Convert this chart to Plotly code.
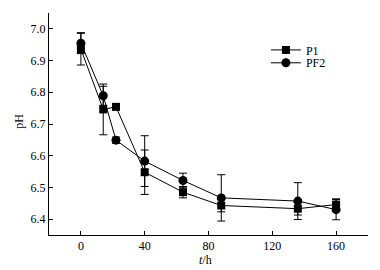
import plotly.graph_objects as go

time_h = [0, 14, 22, 40, 64, 88, 136, 160]
p1_ph = [6.936, 6.746, 6.754, 6.548, 6.485, 6.443, 6.433, 6.446]
p1_err = [0.05, 0.08, 0.005, 0.07, 0.018, 0.02, 0.02, 0.018]
pf2_ph = [6.955, 6.789, 6.649, 6.583, 6.522, 6.467, 6.457, 6.430]
pf2_err = [0.033, 0.03, 0.01, 0.08, 0.023, 0.073, 0.058, 0.032]

font_family = "Liberation Serif"

fig = go.Figure()
fig.add_trace(go.Scatter(
    x=time_h, y=p1_ph, name="P1", mode="lines+markers",
    line=dict(color="black", width=1),
    marker=dict(symbol="square", size=8, color="black"),
    error_y=dict(type="data", array=p1_err, visible=True, color="black", thickness=1, width=4),
    legend="legend",
))
fig.add_trace(go.Scatter(
    x=time_h, y=pf2_ph, name="PF2", mode="lines+markers",
    line=dict(color="black", width=1),
    marker=dict(symbol="circle", size=9, color="black"),
    error_y=dict(type="data", array=pf2_err, visible=True, color="black", thickness=1, width=4),
    legend="legend2",
))

leg_common = dict(xanchor="left", yanchor="top", bgcolor="rgba(0,0,0,0)",
                  font=dict(size=12), itemwidth=30)

fig.update_layout(
    width=372, height=262,
    margin=dict(l=41, r=12, t=5, b=35),
    paper_bgcolor="white", plot_bgcolor="white",
    font=dict(family=font_family, size=12, color="black"),
    showlegend=True,
    legend=dict(x=0.68, y=0.899, **leg_common),
    legend2=dict(x=0.68, y=0.841, **leg_common),
    xaxis=dict(
        range=[-20, 180], tickvals=[0, 40, 80, 120, 160],
        ticks="inside", ticklen=4, tickcolor="black",
        showline=True, linecolor="black", linewidth=1,
        showgrid=False, zeroline=False, automargin=False,
    ),
    yaxis=dict(
        range=[6.35, 7.05], tickvals=[6.4, 6.5, 6.6, 6.7, 6.8, 6.9, 7.0],
        tickformat=".1f",
        ticks="inside", ticklen=4, tickcolor="black",
        showline=True, linecolor="black", linewidth=1,
        showgrid=False, zeroline=False, automargin=False,
    ),
    annotations=[
        dict(text="pH", xref="paper", yref="paper", x=-0.094, y=0.51,
             textangle=-90, showarrow=False, font=dict(size=12),
             xanchor="center", yanchor="middle"),
        dict(text="<i>t</i>/h", xref="paper", yref="paper", x=0.492, y=-0.112,
             showarrow=False, font=dict(size=12),
             xanchor="center", yanchor="middle"),
    ],
)

fig.write_html("out.html")
